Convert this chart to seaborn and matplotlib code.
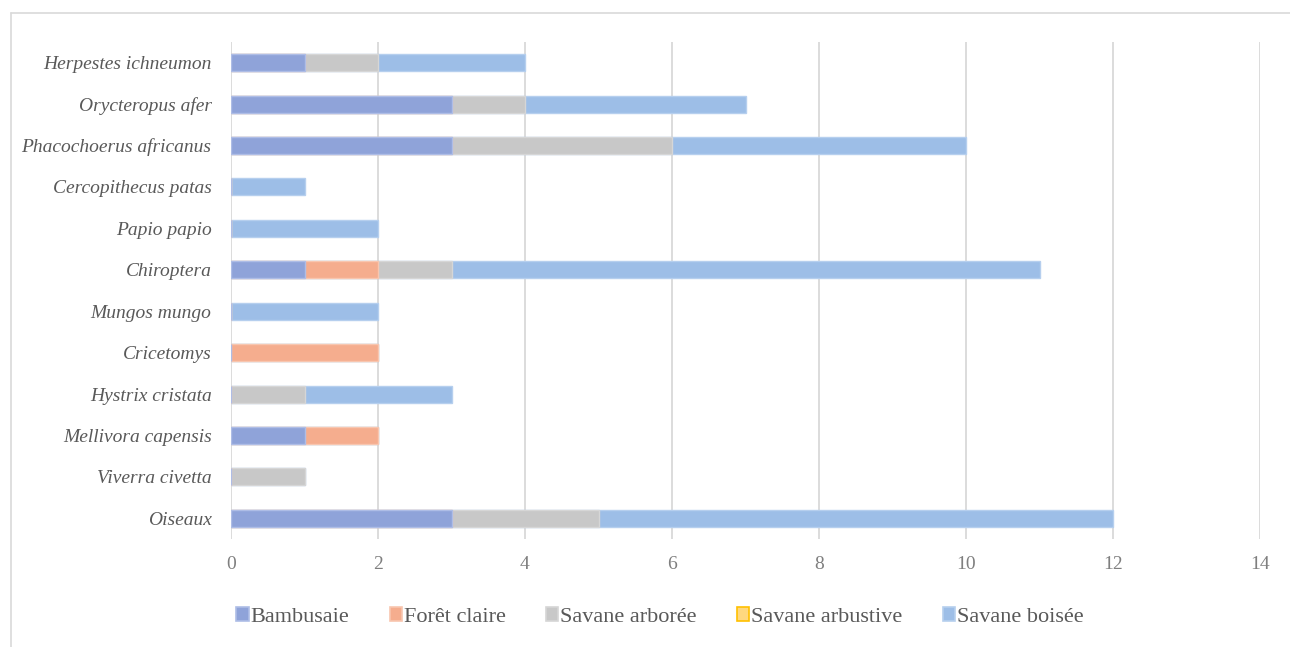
import matplotlib
matplotlib.use("Agg")
import matplotlib.pyplot as plt
from matplotlib.lines import Line2D
from matplotlib.patches import Patch
import seaborn as sns
import pandas as pd
import numpy as np

species = ["Herpestes ichneumon", "Orycteropus afer", "Phacochoerus africanus",
           "Cercopithecus patas", "Papio papio", "Chiroptera", "Mungos mungo",
           "Cricetomys", "Hystrix cristata", "Mellivora capensis",
           "Viverra civetta", "Oiseaux"]
bambusaie        = [1, 3, 3, 0, 0, 1, 0, 0, 0, 1, 0, 3]
foret_claire     = [0, 0, 0, 0, 0, 1, 0, 2, 0, 1, 0, 0]
savane_arboree   = [1, 1, 3, 0, 0, 1, 0, 0, 1, 0, 1, 2]
savane_arbustive = [0, 0, 0, 0, 0, 0, 0, 0, 0, 0, 0, 0]
savane_boisee    = [2, 3, 4, 1, 2, 8, 2, 0, 2, 0, 0, 7]

series_names = ["Bambusaie", "Forêt claire", "Savane arborée", "Savane arbustive", "Savane boisée"]
series_vals = [bambusaie, foret_claire, savane_arboree, savane_arbustive, savane_boisee]
face_colors = ["#8FA3D9", "#F5AD8E", "#C8C8C8", "#FFD87F", "#9DBEE7"]
edge_colors = ["#AEBDE6", "#F8C6AF", "#D6D6D6", "#FFC000", "#B6CFEE"]
xticks = [0, 2, 4, 6, 8, 10, 12, 14]

sns.set_theme(style="white")
plt.rcParams["font.family"] = ["Liberation Serif", "DejaVu Serif"]

fig = plt.figure(figsize=(12.9, 6.47), dpi=100)
ax = fig.add_axes([231/1290, 1 - 539/647, (1260-231)/1290, (539-42)/647])

vals = np.array(series_vals)
cum = np.cumsum(vals, axis=0)
# draw cumulative totals from back (largest) to front
for i in range(len(series_names) - 1, -1, -1):
    df = pd.DataFrame({"species": species, "value": cum[i]})
    lw = 1.0 if vals[i].sum() > 0 else 0.0
    sns.barplot(data=df, x="value", y="species", order=species, orient="h",
                color=face_colors[i], saturation=1, width=0.41,
                edgecolor=edge_colors[i], linewidth=lw, ax=ax, zorder=3)

ax.set_xlim(0, 14)
ax.set_ylim(11.5, -0.5)
ax.set_xticks(xticks)
ax.set_xticklabels([str(t) for t in xticks], fontsize=14, color="#7F7F7F")
ax.set_yticklabels(species, fontsize=14, style="italic", color="#595959")
ax.set_xlabel("")
ax.set_ylabel("")
ax.tick_params(axis="both", length=0)
ax.tick_params(axis="x", pad=12)
ax.tick_params(axis="y", pad=14)
ax.grid(axis="x", color="#D9D9D9", linewidth=1.3, zorder=0)
ax.grid(axis="y", visible=False)
for s in ax.spines.values():
    s.set_visible(False)
ax.set_axisbelow(True)

handles = []
for n, fc, ec in zip(series_names, face_colors, edge_colors):
    handles.append(Patch(facecolor=fc, edgecolor=ec, linewidth=1.2, label=n))
fig.legend(handles=handles, loc="center", bbox_to_anchor=(660/1290, 1 - 617/647),
           ncol=5, frameon=False, fontsize=16, handlelength=0.55, handleheight=0.55,
           handletextpad=0.1, columnspacing=1.8, labelcolor="#595959")

# outer chart frame (top and left edges visible)
fig.add_artist(Line2D([11/1290, 1.0], [1 - 13/647, 1 - 13/647], color="#D9D9D9", linewidth=1.2, transform=fig.transFigure))
fig.add_artist(Line2D([11/1290, 11/1290], [0.0, 1 - 13/647], color="#D9D9D9", linewidth=1.2, transform=fig.transFigure))

fig.savefig("out.png", dpi=100, facecolor="white")
